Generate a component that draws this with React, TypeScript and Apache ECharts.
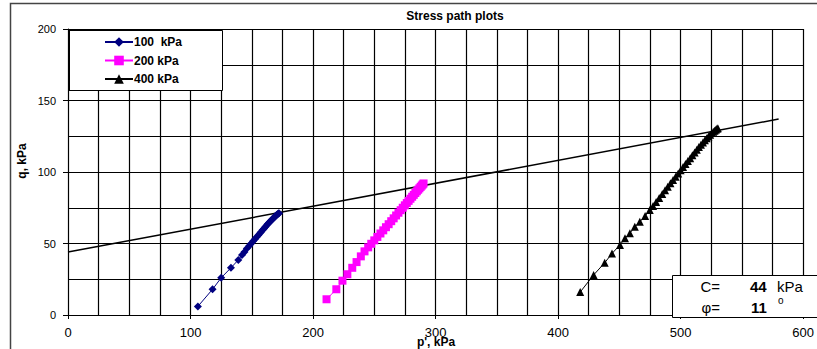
import { useEffect, useRef } from "react";
import * as echarts from "echarts";

const seriesNames = ["100  kPa", "200 kPa", "400 kPa"];

const p100 = [106, 118, 125, 133, 139, 142, 144, 146, 148, 149.5, 151, 152.5, 154, 155.3, 156.5, 157.7, 158.8, 160, 161, 162, 163, 164, 165, 165.9, 166.8, 167.6, 168.4, 169.1, 169.8, 170.5, 171.1, 171.7, 172.2];
const q100 = [6, 18, 26, 33, 38.5, 42, 44, 46.5, 48.5, 50, 51.5, 53, 54.5, 55.8, 57, 58.3, 59.4, 60.5, 61.6, 62.6, 63.6, 64.5, 65.4, 66.2, 67, 67.7, 68.4, 69, 69.6, 70.1, 70.5, 70.9, 71.2];

const p200 = [211, 219, 224, 228, 232, 235.5, 239, 242, 245, 247.5, 250, 252.5, 255, 257.3, 259.5, 261.7, 263.8, 265.8, 267.8, 269.7, 271.5, 273.2, 274.9, 276.5, 278, 279.5, 280.9, 282.2, 283.5, 284.7, 285.8, 286.8, 287.8, 288.7, 289.5, 290.2];
const q200 = [11, 18, 24, 28.5, 33, 37, 41, 44.5, 47.3, 49.8, 52.2, 54.6, 57, 59.2, 61.4, 63.5, 65.6, 67.6, 69.6, 71.5, 73.3, 75, 76.7, 78.3, 79.8, 81.3, 82.7, 84, 85.3, 86.5, 87.6, 88.6, 89.6, 90.5, 91.3, 92];

const p400 = [418, 429, 438, 444, 450.5, 454.6, 458.6, 462.6, 466.7, 471, 474.8, 477.5, 480, 482.5, 485, 487.3, 489.5, 491.7, 493.8, 495.9, 498, 500, 502, 504, 505.9, 507.8, 509.6, 511.4, 513.2, 514.9, 516.6, 518.2, 519.8, 521.3, 522.7, 524.1, 525.4, 526.6, 527.7, 528.7, 529.6, 530.4];
const q400 = [16, 28, 36.5, 43, 49, 53.6, 57.2, 61.7, 65.2, 69.2, 73.4, 76.3, 79, 81.8, 84.7, 87.3, 89.7, 92.1, 94.4, 96.7, 99, 101.3, 103.5, 105.6, 107.7, 109.7, 111.7, 113.7, 115.6, 117.4, 119.1, 120.7, 122.2, 123.6, 124.9, 126.1, 127.2, 128.1, 128.9, 129.6, 130.2, 130.6];

const envelopeP = [0, 580];
const envelopeQ = [44, 137];

const cohesion = "44";
const phi = "11";

const FONT = "'Liberation Sans', Arial, sans-serif";

function zip(a: number[], b: number[]) {
  return a.map((v, i) => [v, b[i]]);
}

export default function App() {
  const ref = useRef<HTMLDivElement>(null);
  useEffect(() => {
    document.body.style.margin = "0";
    const chart = echarts.init(ref.current!, null, { renderer: "svg" });
    const txt = (
      text: string,
      x: number,
      y: number,
      font: string,
      align: string,
      extra: any = {}
    ) => ({
      type: "text",
      x,
      y,
      z: 11,
      ...extra,
      style: {
        text,
        font,
        fill: "#000",
        textAlign: align,
        textVerticalAlign: "middle",
        align,
        verticalAlign: "middle",
      },
    });
    chart.setOption({
      animation: false,
      backgroundColor: "#fff",
      textStyle: { fontFamily: FONT },
      grid: { left: 68, right: 5, top: 29, bottom: 34, containLabel: false },
      xAxis: {
        type: "value",
        min: 0,
        max: 600,
        interval: 100,
        axisLine: { show: true, lineStyle: { color: "#000", width: 1 } },
        axisTick: { show: true, length: 4, lineStyle: { color: "#000" } },
        axisLabel: { color: "#000", fontSize: 13, margin: 11, fontFamily: FONT },
        splitLine: { show: true, lineStyle: { color: "#000", width: 1.2 } },
        minorTick: { show: false, splitNumber: 4 },
        minorSplitLine: { show: true, lineStyle: { color: "#000", width: 1.2 } },
      },
      yAxis: {
        type: "value",
        min: 0,
        max: 200,
        interval: 50,
        axisLine: { show: true, lineStyle: { color: "#000", width: 1 } },
        axisTick: { show: true, length: 5, lineStyle: { color: "#000" } },
        axisLabel: { color: "#000", fontSize: 11, margin: 12, fontFamily: FONT },
        splitLine: { show: true, lineStyle: { color: "#000", width: 1.2 } },
        minorTick: { show: false, splitNumber: 2 },
        minorSplitLine: { show: true, lineStyle: { color: "#000", width: 1.2 } },
      },
      legend: {
        orient: "vertical",
        left: 104,
        top: 36,
        padding: 0,
        itemWidth: 28,
        itemHeight: 12,
        itemGap: 6.5,
        selectedMode: false,
        z: 10,
        data: seriesNames,
        textStyle: {
          fontSize: 12,
          fontWeight: "bold",
          color: "#000",
          fontFamily: FONT,
          padding: [0, 0, 0, -4],
        },
      },
      graphic: [
        {
          type: "rect",
          z: 20,
          silent: true,
          shape: { x: 10.5, y: 3.5, width: 900, height: 400 },
          style: { fill: "none", stroke: "#444", lineWidth: 1.5 },
        },
        {
          type: "rect",
          z: 3,
          shape: { x: 68.5, y: 30.5, width: 154, height: 60 },
          style: { fill: "#fff", stroke: "#000", lineWidth: 1 },
        },
        {
          type: "line",
          z: 3,
          shape: { x1: 69, y1: 30, x2: 69, y2: 91 },
          style: { stroke: "#000", lineWidth: 2 },
        },
        {
          type: "rect",
          z: 3,
          shape: { x: 672.5, y: 275.5, width: 160, height: 42 },
          style: { fill: "#fff", stroke: "#000", lineWidth: 1 },
        },
        txt("Stress path plots", 455, 16, `bold 12px ${FONT}`, "center"),
        txt("p', kPa", 436, 342, `bold 12px ${FONT}`, "center"),
        txt("q, kPa", 22, 161, `bold 12px ${FONT}`, "center", { rotation: Math.PI / 2 }),
        txt("C=", 720, 286, `15px ${FONT}`, "right"),
        txt(cohesion, 750, 286, `bold 15px ${FONT}`, "left"),
        txt("kPa", 777, 286, `15px ${FONT}`, "left"),
        txt("φ=", 720, 307, `15px ${FONT}`, "right"),
        txt(phi, 751, 307, `bold 15px ${FONT}`, "left"),
        txt("o", 778, 300, `10px ${FONT}`, "left"),
      ],
      series: [
        {
          name: "envelope",
          type: "line",
          data: zip(envelopeP, envelopeQ),
          symbol: "none",
          lineStyle: { color: "#000", width: 1.5 },
          z: 1,
        },
        {
          name: seriesNames[0],
          type: "line",
          data: zip(p100, q100),
          symbol: "diamond",
          symbolSize: 8,
          itemStyle: { color: "#000080" },
          lineStyle: { color: "#000080", width: 1 },
        },
        {
          name: seriesNames[1],
          type: "line",
          data: zip(p200, q200),
          symbol: "rect",
          symbolSize: 8,
          itemStyle: { color: "#ff00ff" },
          lineStyle: { color: "#ff00ff", width: 1 },
        },
        {
          name: seriesNames[2],
          type: "line",
          data: zip(p400, q400),
          symbol: "triangle",
          symbolSize: 8,
          itemStyle: { color: "#000" },
          lineStyle: { color: "#000", width: 1 },
        },
      ],
    });
    return () => chart.dispose();
  }, []);
  return <div ref={ref} style={{ width: 817, height: 349 }} />;
}
